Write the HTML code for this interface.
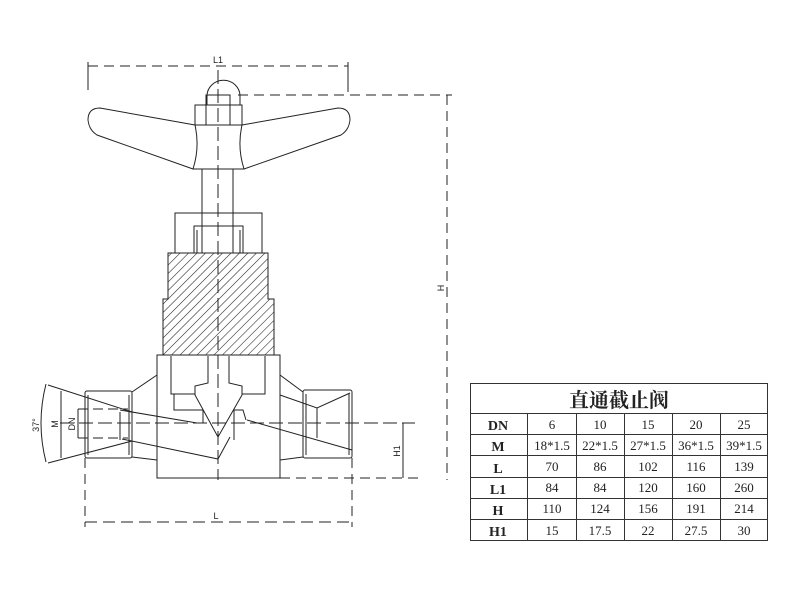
<!DOCTYPE html>
<html><head><meta charset="utf-8"><style>
html,body{margin:0;padding:0;background:#fff;}
svg{display:block;}
text{font-family:"Liberation Sans",sans-serif;fill:#222;}
.t{font-family:"Liberation Serif","Noto Serif CJK SC",serif;}
</style></head><body>
<svg width="790" height="600" viewBox="0 0 790 600" xmlns="http://www.w3.org/2000/svg">
<defs>
<pattern id="h" width="6" height="6" patternUnits="userSpaceOnUse" patternTransform="rotate(45)">
<line x1="0" y1="0" x2="0" y2="6" stroke="#222" stroke-width="1.1"/>
</pattern>
</defs>
<g fill="none" stroke="#222" stroke-width="1">
<line x1="88" y1="66" x2="348" y2="66" stroke-dasharray="10,6"/>
<line x1="88" y1="62" x2="88" y2="90" />
<line x1="348" y1="62" x2="348" y2="92" />
<line x1="238" y1="95" x2="452" y2="95" stroke-dasharray="10,6"/>
<line x1="447" y1="95" x2="447" y2="480" stroke-dasharray="10,6"/>
<line x1="218" y1="70" x2="218" y2="480" stroke-dasharray="14,5"/>
<path d="M207,105 L207,96 A11.5,11 0 0 1 240,96 L240,105"/>
<rect x="195" y="105" width="47" height="20"/>
<rect x="206" y="95" width="24" height="30"/>
<path d="M195,125 Q200,147 193,169 L244,169 Q237,147 242,125"/>
<path d="M195,125 L100,108 Q88,108 88,120 Q89,130 97,135 L193,169"/>
<path d="M242,125 L338,108 Q350,108 350,120 Q349,130 341,135 L244,169"/>
<rect x="202" y="169" width="31" height="84"/>
<rect x="175" y="213" width="87" height="40"/>
<path d="M194,253 L194,226 L243,226 L243,253"/>
<line x1="197" y1="230" x2="197" y2="253"/><line x1="240" y1="230" x2="240" y2="253"/>
<path d="M168,253 L268,253 L268,299 L274,299 L274,355 L163,355 L163,299 L168,299 Z" fill="url(#h)"/>
<rect x="157" y="355" width="123" height="123"/>
<line x1="157" y1="375" x2="132" y2="392"/><line x1="157" y1="460" x2="132" y2="457"/>
<line x1="280" y1="375" x2="303" y2="392"/><line x1="280" y1="460" x2="303" y2="457"/>
<rect x="85" y="391" width="47" height="67" rx="2"/>
<line x1="88" y1="395" x2="88" y2="455"/><line x1="129" y1="395" x2="129" y2="455"/>
<rect x="303" y="390" width="49" height="68" rx="2"/>
<line x1="306" y1="394" x2="306" y2="455"/><line x1="349" y1="394" x2="349" y2="455"/>
<path d="M171,356 L171,394 L195,394"/>
<path d="M174,394 L174,410 L203,410"/>
<path d="M265,356 L265,394 L242,394"/>
<path d="M208,356 L208,383 L195,386 L195,395 L218,437 L242,395 L242,386 L229,383 L229,356"/>
<path d="M203,410 L203,423"/><path d="M234,410 L243,410 L246,420"/>
<path d="M234,410 L234,440"/>
<line x1="48" y1="385" x2="132" y2="412"/>
<line x1="48" y1="463" x2="132" y2="441"/>
<line x1="120" y1="412" x2="120" y2="440"/>
<line x1="120" y1="410" x2="197" y2="423"/>
<path d="M122,439 L218,459 L230,437"/>
<line x1="247" y1="420" x2="352" y2="450"/>
<path d="M280,395 L317,408 L350,393"/>
<line x1="317" y1="408" x2="317" y2="438"/>
<line x1="60" y1="423" x2="415" y2="423" stroke-dasharray="14,5"/>
<line x1="78" y1="409" x2="128" y2="409" stroke-dasharray="10,5"/>
<line x1="78" y1="438" x2="128" y2="438" stroke-dasharray="10,5"/>
<path d="M46,384 Q36,423 46,462"/>
<line x1="61" y1="391" x2="61" y2="458"/>
<line x1="78" y1="409" x2="78" y2="438"/>
<line x1="85" y1="458" x2="85" y2="527" stroke-dasharray="10,6"/>
<line x1="352" y1="458" x2="352" y2="527" stroke-dasharray="10,6"/>
<line x1="85" y1="522" x2="352" y2="522" stroke-dasharray="12,6"/>
<line x1="280" y1="478" x2="420" y2="478" stroke-dasharray="10,6"/>
<line x1="403" y1="423" x2="403" y2="478"/>
</g>
<text x="218" y="63" font-size="9" text-anchor="middle">L1</text>
<text x="216" y="519" font-size="9" text-anchor="middle">L</text>
<text transform="translate(444,288) rotate(-90)" font-size="9" text-anchor="middle">H</text>
<text transform="translate(400,451) rotate(-90)" font-size="9" text-anchor="middle">H1</text>
<text transform="translate(58,424) rotate(-90)" font-size="9" text-anchor="middle">M</text>
<text transform="translate(75,424) rotate(-90)" font-size="9" text-anchor="middle">DN</text>
<text transform="translate(39,425) rotate(-90)" font-size="9" text-anchor="middle">37°</text>
<g stroke="#333" stroke-width="1" fill="none">
<rect x="470.5" y="383.5" width="297" height="157"/>
<line x1="470" y1="413.5" x2="768" y2="413.5"/>
<line x1="470" y1="434.5" x2="768" y2="434.5"/>
<line x1="470" y1="455.5" x2="768" y2="455.5"/>
<line x1="470" y1="477.5" x2="768" y2="477.5"/>
<line x1="470" y1="498.5" x2="768" y2="498.5"/>
<line x1="470" y1="519.5" x2="768" y2="519.5"/>
<line x1="527.5" y1="413" x2="527.5" y2="540"/>
<line x1="576.5" y1="413" x2="576.5" y2="540"/>
<line x1="624.5" y1="413" x2="624.5" y2="540"/>
<line x1="672.5" y1="413" x2="672.5" y2="540"/>
<line x1="720.5" y1="413" x2="720.5" y2="540"/>
</g>
<g font-size="13" text-anchor="middle">
<text class="t" x="619" y="407" font-size="20" font-weight="bold">直通截止阀</text>
<text class="t" x="498" y="430" font-weight="bold" font-size="14">DN</text><text class="t" x="498" y="451" font-weight="bold" font-size="14">M</text><text class="t" x="498" y="473" font-weight="bold" font-size="14">L</text>
<text class="t" x="498" y="494" font-weight="bold" font-size="14">L1</text><text class="t" x="498" y="515" font-weight="bold" font-size="14">H</text><text class="t" x="498" y="536" font-weight="bold" font-size="14">H1</text>
<text class="t" x="552" y="429">6</text><text class="t" x="600" y="429">10</text><text class="t" x="648" y="429">15</text><text class="t" x="696" y="429">20</text><text class="t" x="744" y="429">25</text>
<text class="t" x="552" y="450">18*1.5</text><text class="t" x="600" y="450">22*1.5</text><text class="t" x="648" y="450">27*1.5</text><text class="t" x="696" y="450">36*1.5</text><text class="t" x="744" y="450">39*1.5</text>
<text class="t" x="552" y="471">70</text><text class="t" x="600" y="471">86</text><text class="t" x="648" y="471">102</text><text class="t" x="696" y="471">116</text><text class="t" x="744" y="471">139</text>
<text class="t" x="552" y="492">84</text><text class="t" x="600" y="492">84</text><text class="t" x="648" y="492">120</text><text class="t" x="696" y="492">160</text><text class="t" x="744" y="492">260</text>
<text class="t" x="552" y="513">110</text><text class="t" x="600" y="513">124</text><text class="t" x="648" y="513">156</text><text class="t" x="696" y="513">191</text><text class="t" x="744" y="513">214</text>
<text class="t" x="552" y="535">15</text><text class="t" x="600" y="535">17.5</text><text class="t" x="648" y="535">22</text><text class="t" x="696" y="535">27.5</text><text class="t" x="744" y="535">30</text>
</g>
</svg>
</body></html>
